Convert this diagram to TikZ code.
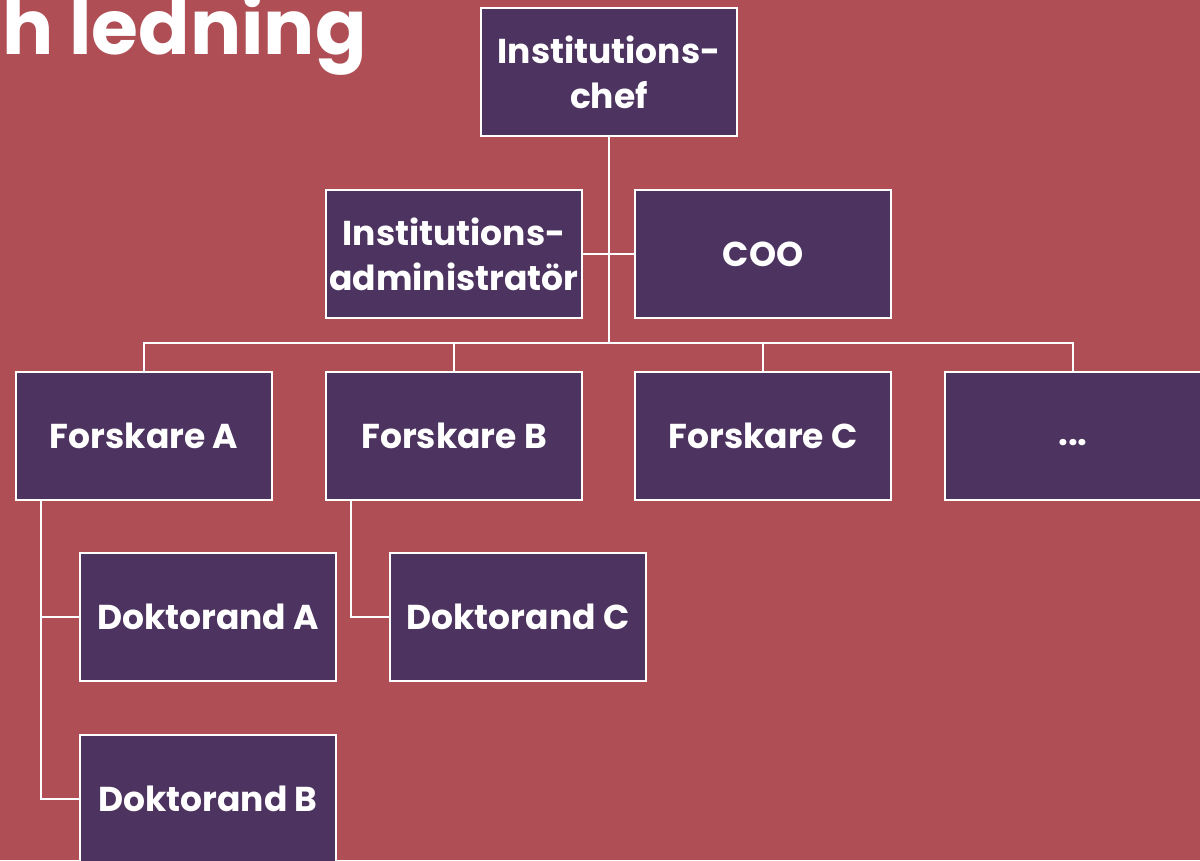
\documentclass[tikz,border=0pt]{standalone}
\usepackage{fontspec}
\setmainfont{Poppins}
\definecolor{bgred}{HTML}{AF4F55}
\definecolor{boxpurple}{HTML}{4D335F}
\begin{document}
\begin{tikzpicture}[x=1pt,y=-1pt,
  orgbox/.style={draw=white, line width=2pt, fill=boxpurple, minimum width=256pt, minimum height=128pt,
    inner sep=0pt, text=white, align=center, font=\fontsize{34.5}{45}\selectfont\bfseries},
  link/.style={draw=white, line width=2pt}]
\clip (0,0) rectangle (1200,860);
\fill[bgred] (0,0) rectangle (1200,860);
\node[anchor=base east, text=white, inner sep=0pt, font=\fontsize{76}{80}\selectfont\bfseries] (title) at (367,54) {h ledning};
\node[orgbox] (chef) at (609,72) {Institutions-\\chef};
\node[orgbox] (admin) at (454,254) {Institutions-\\administratör};
\node[orgbox] (coo) at (763,254) {COO};
\node[orgbox] (fA) at (144,435.5) {Forskare A};
\node[orgbox] (fB) at (454,435.5) {Forskare B};
\node[orgbox] (fC) at (763,435.5) {Forskare C};
\node[orgbox] (fD) at (1073,435.5) {\raisebox{-10pt}[0pt][0pt]{...}};
\node[orgbox] (dA) at (208,617) {Doktorand A};
\node[orgbox] (dC) at (518,617) {Doktorand C};
\node[orgbox] (dB) at (208,799) {Doktorand B};
\coordinate (bus) at (609,343);
\draw[link] (chef.south) -- (bus);
\draw[link] (admin.east) -- (coo.west);
\draw[link] (fA.north) |- (bus) -| (fD.north);
\draw[link] (fB.north) -- (fB.north |- bus);
\draw[link] (fC.north) -- (fC.north |- bus);
\coordinate (fAl) at ([xshift=26pt]fA.south west);
\coordinate (fBl) at ([xshift=26pt]fB.south west);
\draw[link] (fAl) |- (dB.west);
\draw[link] (dA.west) -- (dA.west -| fAl);
\draw[link] (fBl) |- (dC.west);
\end{tikzpicture}
\end{document}
